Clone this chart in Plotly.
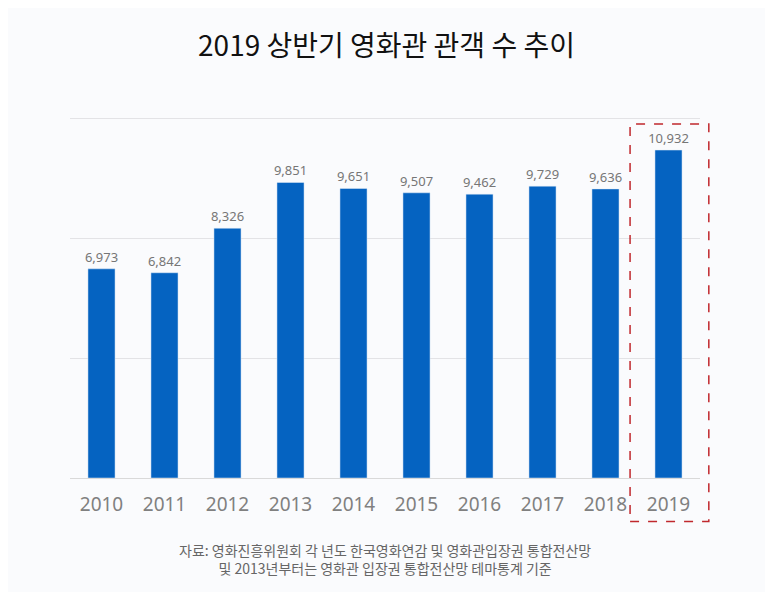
import plotly.graph_objects as go

years = ["2010", "2011", "2012", "2013", "2014", "2015", "2016", "2017", "2018", "2019"]
audience = [6973, 6842, 8326, 9851, 9651, 9507, 9462, 9729, 9636, 10932]

title_text = "2019 상반기 영화관 관객 수 추이"
source_text = ("자료: 영화진흥위원회 각 년도 한국영화연감 및 영화관입장권 통합전산망<br>"
               "및 2013년부터는 영화관 입장권 통합전산망 테마통계 기준")

bg = "#fafbfd"

fig = go.Figure()
fig.add_trace(go.Bar(
    x=years, y=audience,
    marker_color="#0563c1",
    text=[f"{v:,}" for v in audience],
    textposition="outside",
    constraintext="none",
    textfont=dict(family="Noto Sans", size=13, color="#767676"),
    cliponaxis=False,
))

# red dashed box around 2019
fig.add_shape(type="rect", xref="paper", yref="paper",
              x0=0.889, x1=1.014, y0=-0.12, y1=0.975,
              line=dict(color="#c0282d", width=1.5, dash="dash"))

fig.add_annotation(text=source_text, xref="paper", yref="paper",
                   x=0.5, y=-0.165, xanchor="center", yanchor="top",
                   showarrow=False, align="center",
                   font=dict(family="Noto Sans CJK KR", size=14, color="#666666"))

# page body adds 8px around the figure, so size is reduced to fit the window
fig.update_layout(
    width=757, height=584,
    margin=dict(l=62, r=65, t=107, b=114),
    paper_bgcolor=bg, plot_bgcolor=bg,
    title=dict(text=title_text, x=0.5, xanchor="center", y=0.935, yanchor="middle",
               font=dict(family="Noto Sans CJK KR", size=28, color="#111111")),
    bargap=0.57,
    showlegend=False,
    xaxis=dict(tickfont=dict(family="Noto Sans", size=19, color="#808080"),
               ticklabelstandoff=9,
               showline=True, linecolor="#d9d9d9", linewidth=1, ticks=""),
    yaxis=dict(range=[0, 12100], tickvals=[4000, 8000, 12000], showticklabels=False,
               gridcolor="#e3e3e6", zeroline=False),
)

fig.write_html("out.html")
